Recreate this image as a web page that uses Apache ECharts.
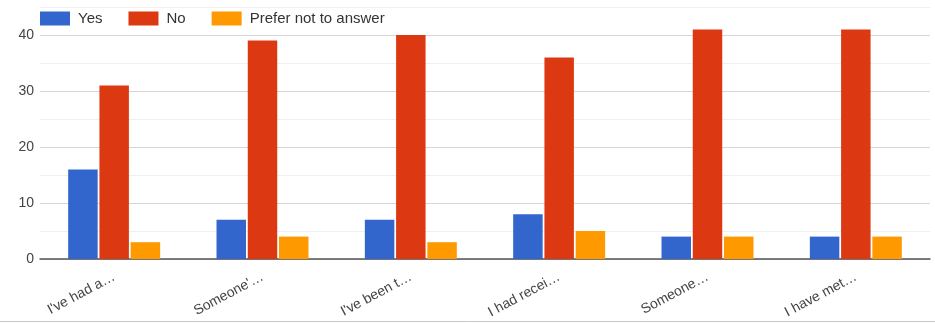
<!DOCTYPE html>
<html>
<head>
<meta charset="utf-8">
<script src="https://cdn.jsdelivr.net/npm/echarts@6/dist/echarts.min.js"></script>
<style>html,body{margin:0;padding:0;background:#fff}#c{width:935px;height:324px}</style>
</head>
<body>
<div id="c"></div>
<script>
var categories = ["I've had a\u2026", "Someone'\u2026", "I've been t\u2026", "I had recei\u2026", "Someone\u2026", "I have met\u2026"];
var yesValues = [16, 7, 7, 8, 4, 4];
var noValues = [31, 39, 40, 36, 41, 41];
var preferValues = [3, 4, 3, 5, 4, 4];
var seriesNames = ["Yes", "No", "Prefer not to answer"];

var chart = echarts.init(document.getElementById('c'));
var font = 'Arial, "Liberation Sans", sans-serif';
chart.setOption({
  animation: false,
  textStyle: {fontFamily: font},
  color: ['#3366cc', '#dc3912', '#ff9900'],
  legend: {
    left: 35, top: 6, itemWidth: 30, itemHeight: 14, itemGap: 26,
    icon: 'rect',
    textStyle: {fontSize: 15, color: '#333', fontFamily: font, padding: [0, 0, 0, 3]},
    data: seriesNames
  },
  grid: {left: 40, right: 5, top: 7, bottom: 65, containLabel: false},
  xAxis: {
    type: 'category', data: categories,
    axisLine: {lineStyle: {color: '#555', width: 1.5}},
    axisTick: {show: false},
    axisLabel: {rotate: 28, color: '#444', fontSize: 14, margin: 17, fontFamily: font}
  },
  yAxis: {
    type: 'value', min: 0, max: 45, interval: 5,
    axisLine: {show: false}, axisTick: {show: false},
    axisLabel: {color: '#444', fontSize: 14, margin: 6, fontFamily: font,
      formatter: function (v) { return v % 10 === 0 ? String(v) : ''; }},
    splitLine: {lineStyle: {color: ['#d6d6d6', '#efefef'], width: 1}}
  },
  series: [
    {name: seriesNames[0], type: 'bar', data: yesValues, barCategoryGap: '38%', barGap: '6%'},
    {name: seriesNames[1], type: 'bar', data: noValues, barCategoryGap: '38%', barGap: '6%'},
    {name: seriesNames[2], type: 'bar', data: preferValues, barCategoryGap: '38%', barGap: '6%'}
  ],
  graphic: [{type: 'line', shape: {x1: 0, y1: 321.5, x2: 935, y2: 321.5}, style: {stroke: '#c8c8c8', lineWidth: 1}}]
});
</script>
</body>
</html>
